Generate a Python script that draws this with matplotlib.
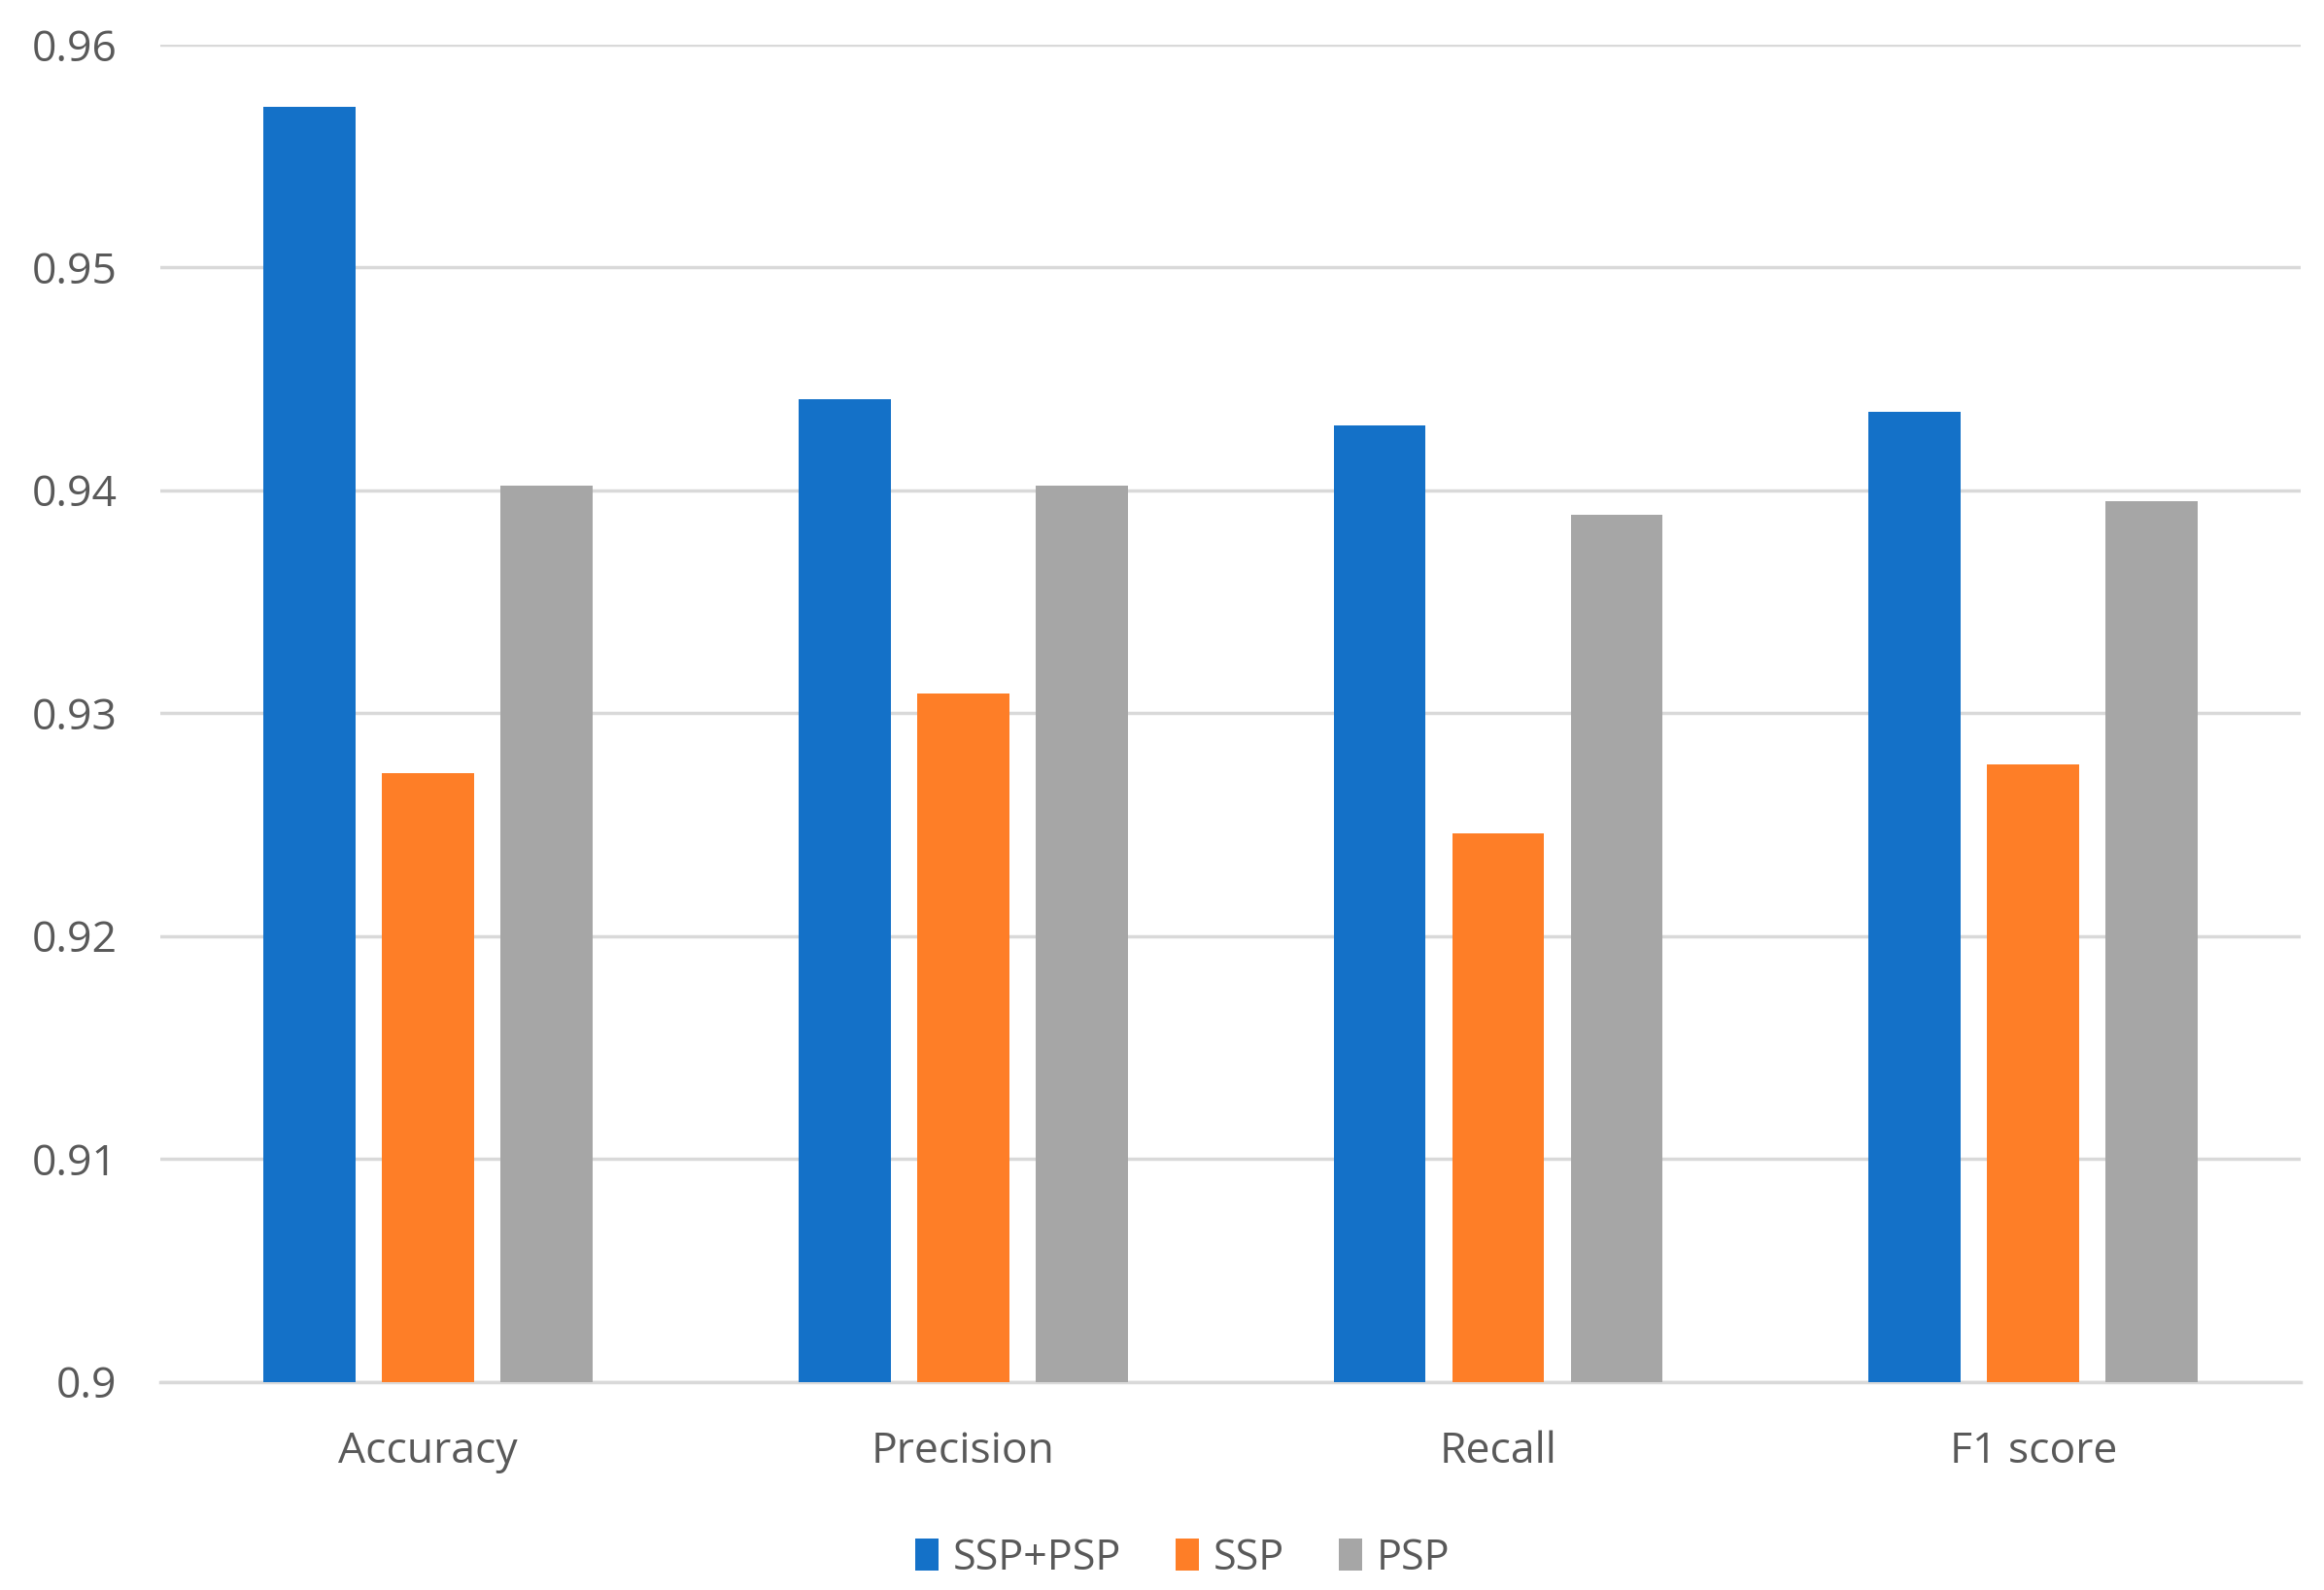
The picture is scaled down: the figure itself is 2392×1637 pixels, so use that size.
import numpy as np
import matplotlib.pyplot as plt

plt.rcParams['font.family'] = ['Open Sans', 'DejaVu Sans']

# data
metrics = ['Accuracy', 'Precision', 'Recall', 'F1 score']
ssp_psp = [0.9572, 0.9441, 0.9429, 0.9435]
ssp = [0.9273, 0.9309, 0.9246, 0.9277]
psp = [0.9402, 0.9402, 0.9389, 0.9395]
yticks = [0.9, 0.91, 0.92, 0.93, 0.94, 0.95, 0.96]
ytick_labels = ['0.9', '0.91', '0.92', '0.93', '0.94', '0.95', '0.96']

fig = plt.figure(figsize=(23.92, 16.37), dpi=100)
ax = fig.add_axes([0.069, 0.131, 0.921, 0.841])

x = np.arange(len(metrics))
w = 0.172
step = 0.2216
ax.bar(x - step, ssp_psp, w, color='#1471C8', label='SSP+PSP', zorder=3)
ax.bar(x, ssp, w, color='#FE7E27', label='SSP', zorder=3)
ax.bar(x + step, psp, w, color='#A6A6A6', label='PSP', zorder=3)

ax.set_ylim(0.9, 0.96)
ax.set_xlim(-0.5, 3.5)
ax.set_yticks(yticks)
ax.set_yticklabels(ytick_labels)
ax.set_xticks(x)
ax.set_xticklabels(metrics)
ax.yaxis.grid(True, color='#D9D9D9', linewidth=2.5, zorder=0)
for s in ['top', 'right', 'left']:
    ax.spines[s].set_visible(False)
ax.spines['bottom'].set_color('#D9D9D9')
ax.spines['bottom'].set_linewidth(2.5)
ax.tick_params(axis='both', length=0, labelsize=32, labelcolor='#595959')
ax.tick_params(axis='y', pad=32)
ax.tick_params(axis='x', pad=36)

fig.legend(loc='center', bbox_to_anchor=(0.509, 0.02), ncol=3, frameon=False,
           fontsize=31, labelcolor='#595959', handlelength=0.55, handleheight=0.8,
           handletextpad=0.35, columnspacing=1.3)

fig.savefig('out.png', dpi=100, facecolor='white')
